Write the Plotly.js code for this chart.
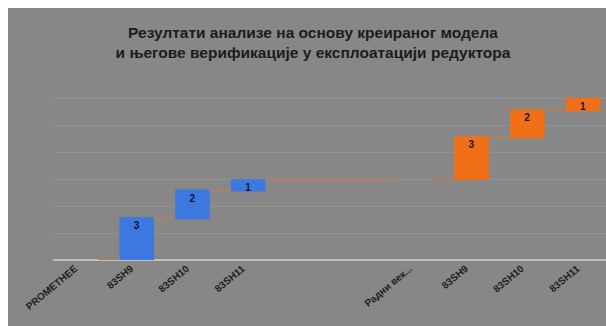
<!DOCTYPE html>
<html>
<head>
<meta charset="utf-8">
<script src="https://cdn.plot.ly/plotly-3.0.1.min.js"></script>
<style>
  html, body { margin: 0; padding: 0; background: #ffffff; width: 606px; height: 326px; overflow: hidden; }
  #chart { position: absolute; left: 8px; top: 8px; width: 598px; height: 318px; }
</style>
</head>
<body>
<div id="chart"></div>
<script>
// Tick labels of the 10 category slots (two blank slots between the groups)
const tickLabels = ["PROMETHEE", "83SH9", "83SH10", "83SH11", "", "", "Радни век...", "83SH9", "83SH10", "83SH11"];

// Group 1 (blue): PROMETHEE start, three reducers, then running total carried to "Радни век..."
const group1Pos = [0, 1, 2, 3, 6];
const group1Measure = ["absolute", "relative", "relative", "relative", "total"];
const group1Values = [0, 1.55, 1.02, 0.38, 0];
const group1Labels = ["", "3", "2", "1", ""];

// Group 2 (orange): starts from the carried total at "Радни век..."
const group2Pos = [6, 7, 8, 9];
const group2Measure = ["absolute", "relative", "relative", "relative"];
const group2Values = [3.0, 1.55, 1.00, 0.42];
const group2Labels = ["", "3", "2", "1"];

const tickVals = tickLabels.map((_, i) => i);

const connector = { mode: "between", line: { color: "#b0805f", width: 2 } };
const textFont = { family: "Liberation Sans, Arial, sans-serif", size: 10, color: "#14142a", weight: "bold" };

const traces = [
  {
    type: "waterfall",
    x: group1Pos, y: group1Values, measure: group1Measure,
    text: group1Labels, textposition: "inside", insidetextanchor: "end",
    textangle: 0, constraintext: "none", textfont: textFont, insidetextfont: textFont,
    width: 0.62,
    increasing: { marker: { color: "#3d78e0", line: { width: 0 } } },
    decreasing: { marker: { color: "#3d78e0", line: { width: 0 } } },
    totals: { marker: { color: "rgba(0,0,0,0)", line: { width: 0 } } },
    connector: connector,
    hoverinfo: "skip", showlegend: false
  },
  {
    type: "waterfall",
    x: group2Pos, y: group2Values, measure: group2Measure,
    text: group2Labels, textposition: "inside", insidetextanchor: "end",
    textangle: 0, constraintext: "none", textfont: textFont, insidetextfont: textFont,
    width: 0.62,
    increasing: { marker: { color: "#f07018", line: { width: 0 } } },
    decreasing: { marker: { color: "#f07018", line: { width: 0 } } },
    totals: { marker: { color: "rgba(0,0,0,0)", line: { width: 0 } } },
    connector: connector,
    hoverinfo: "skip", showlegend: false
  }
];

const layout = {
  width: 598, height: 318,
  paper_bgcolor: "#878787",
  plot_bgcolor: "#878787",
  margin: { l: 45, r: 0, t: 63, b: 66, pad: 0 },
  waterfallmode: "overlay",
  showlegend: false,
  title: {
    text: "Резултати анализе на основу креираног модела<br>и његове верификације у експлоатацији редуктора",
    font: { family: "Liberation Sans, Arial, sans-serif", size: 15.5, color: "#1c1c1c", weight: "bold" },
    x: 0.51, xref: "container", xanchor: "center",
    y: 0.905, yref: "container", yanchor: "middle"
  },
  xaxis: {
    type: "linear",
    range: [-0.5, 9.41],
    tickmode: "array", tickvals: tickVals, ticktext: tickLabels,
    tickangle: -40,
    ticklabelshift: -6,
    tickfont: { family: "Liberation Sans, Arial, sans-serif", size: 10, color: "#1e1e1e", weight: "bold" },
    showgrid: false, zeroline: false, showline: false, ticks: "",
    fixedrange: true
  },
  yaxis: {
    range: [0, 7], dtick: 1,
    showticklabels: false,
    gridcolor: "#939393", gridwidth: 1,
    zeroline: true, zerolinecolor: "#bdbdbd", zerolinewidth: 2,
    showline: false, ticks: "",
    fixedrange: true
  }
};

Plotly.newPlot("chart", traces, layout, { staticPlot: true, displayModeBar: false });
</script>
</body>
</html>
